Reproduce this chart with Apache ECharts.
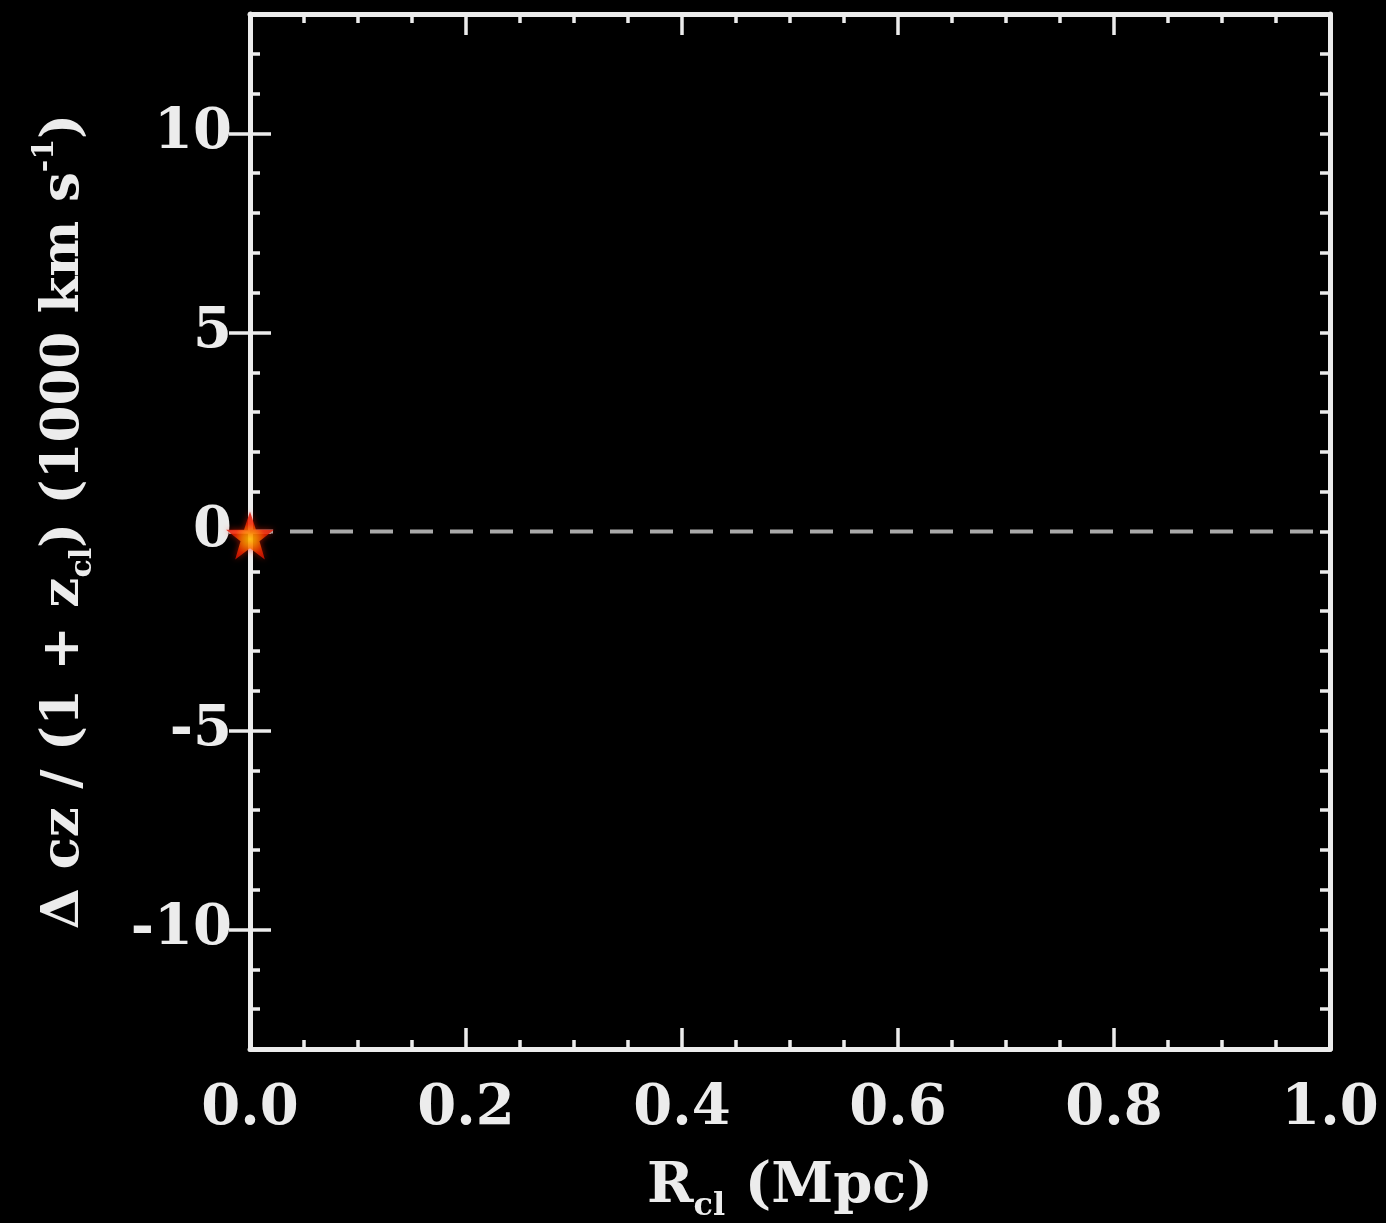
<!DOCTYPE html>
<html>
<head>
<meta charset="utf-8">
<script src="https://cdn.jsdelivr.net/npm/echarts@6/dist/echarts.min.js"></script>
<style>
  html, body { margin: 0; padding: 0; background: #000; }
  #chart { width: 1386px; height: 1223px; }
</style>
</head>
<body>
<div id="chart"></div>
<script>
// Axis ranges and labelled ticks
const xRange = [0, 1];
const yRange = [-13, 13];
const xMajorStep = 0.2;
const yMajorTicks = [-10, -5, 0, 5, 10];

// Cluster centre (R_cl in Mpc, velocity offset in 1000 km/s)
const clusterR = [0];
const clusterDv = [-0.1];

// Zero-velocity reference line
const zeroLineR = [0, 1];
const zeroLineDv = [0, 0];

const FG = '#ececec';
const FONT = '"DejaVu Serif", "Liberation Serif", serif';
const labelFont = { color: FG, fontFamily: FONT, fontWeight: 'bold', fontSize: 56 };

function richStyles(size, subSize, lh) {
  return {
    m:   { color: FG, fontFamily: FONT, fontWeight: 'bold', fontSize: size, lineHeight: lh, verticalAlign: 'middle' },
    sub: { color: FG, fontFamily: FONT, fontWeight: 'bold', fontSize: subSize, lineHeight: lh, verticalAlign: 'bottom' },
    sup: { color: FG, fontFamily: FONT, fontWeight: 'bold', fontSize: subSize, lineHeight: lh, verticalAlign: 'top' }
  };
}

const axisLine = { show: true, onZero: false, lineStyle: { color: FG, width: 5 } };

function xAxisDef(pos, withLabels) {
  return {
    type: 'value', position: pos, min: xRange[0], max: xRange[1], interval: xMajorStep,
    axisLine: axisLine,
    axisTick: { show: true, inside: true, length: 21, lineStyle: { color: FG, width: 3.5 } },
    minorTick: { show: true, splitNumber: 4, length: 9, lineStyle: { color: FG, width: 3.5 } },
    splitLine: { show: false },
    axisLabel: withLabels ? Object.assign({ show: true, margin: 32, formatter: v => v.toFixed(1) }, labelFont) : { show: false },
    name: withLabels ? '{m|R}{sub|cl}{m| (Mpc)}' : '',
    nameLocation: 'middle', nameGap: 102,
    nameTextStyle: { rich: richStyles(56, 32, 72) }
  };
}

function yMinorAxis(pos, withLabels) {
  return {
    type: 'value', position: pos, min: yRange[0], max: yRange[1], interval: 1,
    axisLine: axisLine,
    axisTick: { show: true, inside: true, length: 10, lineStyle: { color: FG, width: 3.5 } },
    splitLine: { show: false },
    axisLabel: withLabels ? Object.assign({ show: true, margin: 18, formatter: v => (v % 5 === 0 ? String(v) : '') }, labelFont) : { show: false },
    name: withLabels ? '{m|\u0394 cz / (1 + z}{sub|cl}{m|) (1000 km s}{sup|-1}{m|)}' : '',
    nameLocation: 'middle', nameRotate: 90, nameGap: 152,
    nameTextStyle: { rich: richStyles(53, 30, 68), padding: [0, 0, 0, 20] }
  };
}

function yMajorAxis(pos) {
  return {
    type: 'value', position: pos, min: yRange[0], max: yRange[1], interval: 1,
    axisLine: { show: false },
    axisTick: { show: true, inside: true, length: 21, customValues: yMajorTicks, lineStyle: { color: FG, width: 3.5 } },
    splitLine: { show: false },
    axisLabel: { show: false }
  };
}

const zeroLine = zeroLineR.map((r, i) => [r, zeroLineDv[i]]);
const cluster = clusterR.map((r, i) => [r, clusterDv[i]]);

const chart = echarts.init(document.getElementById('chart'), null, { renderer: 'canvas' });
chart.setOption({
  backgroundColor: '#000',
  animation: false,
  grid: { left: 250, right: 56, top: 14, bottom: 174, containLabel: false, outerBoundsMode: 'none' },
  xAxis: [xAxisDef('bottom', true), xAxisDef('top', false)],
  yAxis: [yMinorAxis('left', true), yMajorAxis('left'), yMinorAxis('right', false), yMajorAxis('right')],
  series: [
    {
      type: 'line', xAxisIndex: 0, yAxisIndex: 0, data: zeroLine,
      symbol: 'none', silent: true, z: 2,
      lineStyle: { color: '#a9a9a9', width: 4, type: [23, 17] }
    },
    {
      type: 'scatter', xAxisIndex: 0, yAxisIndex: 0, data: cluster, z: 5,
      symbol: 'path://M50,0 L61.8,34.5 L97.6,34.5 L68.8,55.9 L79.4,90.5 L50,69.1 L20.6,90.5 L31.2,55.9 L2.4,34.5 L38.2,34.5 Z',
      symbolSize: 48,
      itemStyle: {
        color: {
          type: 'radial', x: 0.5, y: 0.58, r: 0.5,
          colorStops: [
            { offset: 0, color: '#ffd200' },
            { offset: 0.3, color: '#ff8a00' },
            { offset: 0.65, color: '#f42800' },
            { offset: 1, color: '#e01000' }
          ]
        },
        shadowBlur: 6,
        shadowColor: 'rgba(255,30,0,0.7)'
      }
    }
  ]
});
</script>
</body>
</html>
